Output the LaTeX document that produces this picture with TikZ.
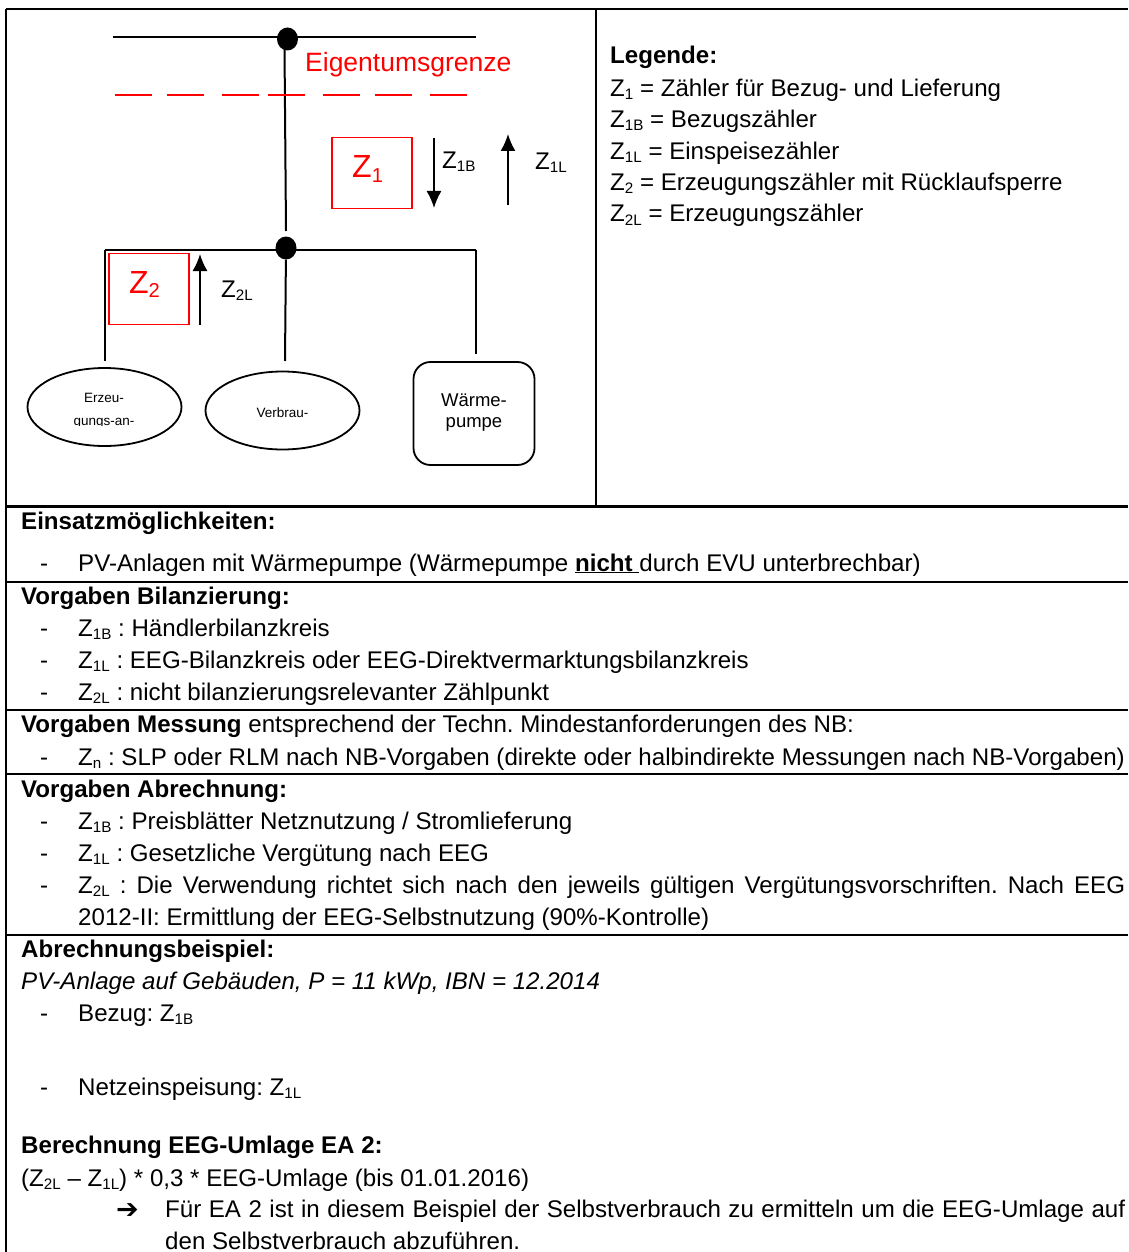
\documentclass[tikz,border=0pt]{standalone}
\usepackage{fontspec}
\setmainfont{Liberation Sans}
\usetikzlibrary{arrows.meta,shapes.geometric}
\newfontfamily\symfont{DejaVu Sans}
\newcommand{\Zsub}[1]{Z\raisebox{-.14em}{\scalebox{.63}{#1}}}
\frenchspacing
\tikzset{
    txt/.style={anchor=base west, inner sep=0pt, font=\fontsize{24.1}{32}\selectfont},
    red box/.style={draw=red, line width=1.7, minimum width=80, minimum height=71, inner sep=0pt},
    red label/.style={anchor=base west, inner sep=0pt, text=red, font=\fontsize{32}{36}\selectfont},
    wire/.style={draw=black, line width=2},
    dot/.style={ellipse, fill=black, inner sep=0pt, minimum width=21, minimum height=23},
    frame/.style={draw=black, line width=2.3},
    flow/.style={draw=black, line width=1.6, -{Latex[length=17,width=15]}},
    load/.style={ellipse, draw=black, line width=1.8, minimum width=154, minimum height=78, inner sep=0pt},
    small/.style={anchor=base, inner sep=0pt, font=\fontsize{13.5}{16}\selectfont},
    pump text/.style={anchor=base, inner sep=0pt, font=\fontsize{18.5}{21}\selectfont}
}
\begin{document}
\begin{tikzpicture}[x=1pt, y=-1pt]
    \useasboundingbox (0,0) rectangle (1128,1252);

    % Table rules
    \draw[frame] (6,9) -- (1128,9);
    \draw[frame] (6,9) -- (6,1252);
    \draw[frame] (596,9) -- (596,506.5);
    \draw[frame] (6,506.5) -- (1128,506.5);
    \draw[frame] (6,582) -- (1128,582);
    \draw[frame] (6,710) -- (1128,710);
    \draw[frame] (6,774) -- (1128,774);
    \draw[frame] (6,935) -- (1128,935);

    % Junctions
    \node[dot] (top dot) at (287.5,39) {};
    \node[dot] (mid dot) at (286,248) {};

    % Bus bars
    \coordinate (top l) at (113,37);
    \coordinate (top r) at (476,37);
    \coordinate (bus l) at (105,249.5);
    \coordinate (bus r) at (476,249.5);
    \coordinate (top stub) at (284.5,48);
    \coordinate (mid stub) at (286,231);
    \draw[wire] (top l) -- (top r);
    \draw[wire] (bus l) -- (bus r);
    \draw[wire] (top stub) -- (mid stub);

    % Ownership border
    \coordinate (border l) at (115,95);
    \coordinate (border r) at (467,95);
    \draw[draw=red, line width=1.6, dash pattern=on 37 off 15 on 37 off 18 on 37 off 9 on 37 off 18 on 37 off 15 on 37 off 18 on 37 off 20] (border l) -- (border r);
    \node[txt, text=red, font=\fontsize{26.5}{30}\selectfont] (border label) at (305,72) {Eigentumsgrenze};

    % Meters
    \node[red box] (z1) at (372,173) {};
    \node[red box] (z2) at (149,289) {};
    \node[red label] (z1 label) at (352,178) {\Zsub{1}};
    \node[red label] (z2 label) at (129,293.5) {\Zsub{2}};

    % Flow arrows
    \coordinate (z1b a) at (434,138);
    \coordinate (z1b b) at (434,208);
    \coordinate (z1l a) at (508,205);
    \coordinate (z1l b) at (508,134);
    \coordinate (z2l a) at (200,325);
    \coordinate (z2l b) at (200,254);
    \draw[flow] (z1b a) -- (z1b b);
    \draw[flow] (z1l a) -- (z1l b);
    \draw[flow] (z2l a) -- (z2l b);
    \node[txt] (z1b label) at (442,168.5) {\Zsub{1B}};
    \node[txt] (z1l label) at (535,169.5) {\Zsub{1L}};
    \node[txt] (z2l label) at (221,297) {\Zsub{2L}};

    % Consumers
    \node[load] (gen) at (104.5,407) {};
    \node[load] (cons) at (282.5,410.5) {};
    \node[draw=black, line width=1.8, rounded corners=17, minimum width=121, minimum height=103, inner sep=0pt] (pump) at (474,413.5) {};
    \node[small] (gen a) at (104,402) {Erzeu-};
    \begin{scope}
        \clip (60,405) rectangle (150,425);
        \node[small] (gen b) at (104,425) {gungs-an-};
    \end{scope}
    \node[small] (cons a) at (282.5,417) {Verbrau-};
    \node[pump text] (pump a) at (474,406) {Wärme-};
    \node[pump text] (pump b) at (474,427) {pumpe};

    % Wire stubs
    \coordinate (gen top) at (105,361);
    \coordinate (cons top) at (285,361);
    \coordinate (pump top) at (476,354);
    \draw[wire] (bus l) -- (gen top);
    \draw[wire] (mid dot) -- (cons top);
    \draw[wire, line width=2.6] (bus r) -- (pump top);

    % Legend
    \node[txt] (leg head) at (610,64) {\textbf{Legende:}};
    \node[txt] (leg a) at (610,96.5) {\Zsub{1} = Zähler für Bezug- und Lieferung};
    \node[txt] (leg b) at (610,127.5) {\Zsub{1B} = Bezugszähler};
    \node[txt] (leg c) at (610,159.5) {\Zsub{1L} = Einspeisezähler};
    \node[txt] (leg d) at (610,190.5) {\Zsub{2} = Erzeugungszähler mit Rücklaufsperre};
    \node[txt] (leg e) at (610,222) {\Zsub{2L} = Erzeugungszähler};

    % Einsatz
    \node[txt] (use head) at (21,529) {\textbf{Einsatzmöglichkeiten:}};
    \node[txt] (use dash) at (40,571) {-};
    \node[txt] (use a) at (78,571) {PV-Anlagen mit Wärmepumpe (Wärmepumpe \textbf{\underline{nicht }}durch EVU unterbrechbar)};

    % Bilanzierung
    \node[txt] (bal head) at (21,604) {\textbf{Vorgaben Bilanzierung:}};
    \node[txt] (bal dash a) at (40,636) {-};
    \node[txt] (bal a) at (78,636) {\Zsub{1B} : Händlerbilanzkreis};
    \node[txt] (bal dash b) at (40,668) {-};
    \node[txt] (bal b) at (78,668) {\Zsub{1L} : EEG-Bilanzkreis oder EEG-Direktvermarktungsbilanzkreis};
    \node[txt] (bal dash c) at (40,700) {-};
    \node[txt] (bal c) at (78,700) {\Zsub{2L} : nicht bilanzierungsrelevanter Zählpunkt};

    % Messung
    \node[txt] (meas head) at (21,732) {\textbf{Vorgaben Messung} entsprechend der Techn. Mindestanforderungen des NB:};
    \node[txt] (meas dash) at (40,765) {-};
    \node[txt] (meas a) at (78,765) {\Zsub{n} : SLP oder RLM nach NB-Vorgaben (direkte oder halbindirekte Messungen nach NB-Vorgaben)};

    % Abrechnung
    \node[txt] (bill head) at (21,797) {\textbf{Vorgaben Abrechnung:}};
    \node[txt] (bill dash a) at (40,829) {-};
    \node[txt] (bill a) at (78,829) {\Zsub{1B} : Preisblätter Netznutzung / Stromlieferung};
    \node[txt] (bill dash b) at (40,861) {-};
    \node[txt] (bill b) at (78,861) {\Zsub{1L} : Gesetzliche Vergütung nach EEG};
    \node[txt] (bill dash c) at (40,893) {-};
    \node[txt] (bill c) at (78,893) {\makebox[1047pt][s]{\Zsub{2L} : Die Verwendung richtet sich nach den jeweils gültigen Vergütungsvorschriften. Nach EEG}};
    \node[txt] (bill d) at (78,925) {2012-II: Ermittlung der EEG-Selbstnutzung (90\%-Kontrolle)};

    % Beispiel
    \node[txt] (ex head) at (21,957) {\textbf{Abrechnungsbeispiel:}};
    \node[txt] (ex a) at (21,989) {\textit{PV-Anlage auf Gebäuden, P = 11 kWp, IBN = 12.2014}};
    \node[txt] (ex dash b) at (40,1021) {-};
    \node[txt] (ex b) at (78,1021) {Bezug: \Zsub{1B}};
    \node[txt] (ex dash c) at (40,1095) {-};
    \node[txt] (ex c) at (78,1095) {Netzeinspeisung: \Zsub{1L}};

    % EEG-Umlage
    \node[txt] (eeg head) at (21,1153) {\textbf{Berechnung EEG-Umlage EA 2:}};
    \node[txt] (eeg a) at (21,1186) {(\Zsub{2L} – \Zsub{1L}) * 0,3 * EEG-Umlage (bis 01.01.2016)};
    \node[txt, font=\fontsize{27}{32}\selectfont] (eeg arrow) at (116,1218) {{\symfont\bfseries ➔}};
    \node[txt] (eeg b) at (165,1217) {\makebox[960pt][s]{Für EA 2 ist in diesem Beispiel der Selbstverbrauch zu ermitteln um die EEG-Umlage auf}};
    \node[txt] (eeg c) at (165,1249) {den Selbstverbrauch abzuführen.};
\end{tikzpicture}
\end{document}
